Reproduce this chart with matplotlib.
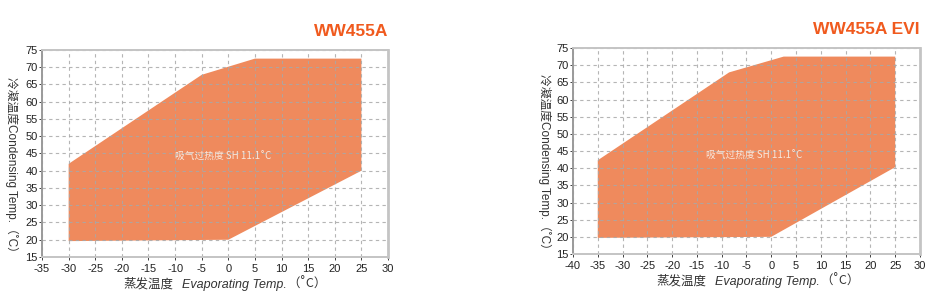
import matplotlib
matplotlib.use("Agg")
import matplotlib.pyplot as plt
from matplotlib.offsetbox import TextArea, HPacker, AnnotationBbox

plt.rcParams["axes.unicode_minus"] = False

# envelope of WW455A (evaporating temp, condensing temp)
left_evap = [-30, -30, -5, 5, 25, 25, 0]
left_cond = [19.6, 42, 67.8, 72.5, 72.5, 40, 20]
# envelope of WW455A EVI
right_evap = [-35, -35, -8.5, 2.5, 25, 25, 0]
right_cond = [19.7, 42.3, 67.9, 72.5, 72.5, 40.3, 20]

titles = ["WW455A", "WW455A EVI"]
left_xticks = list(range(-35, 31, 5))
right_xticks = list(range(-40, 31, 5))
yticks = list(range(15, 76, 5))
note = "吸气过热度 SH 11.1˚C"
note_pos = [(-1, 44), (-3.5, 43.7)]

CJK = ["Noto Sans CJK SC", "DejaVu Sans"]
LAT = ["Liberation Sans", "Noto Sans CJK SC", "DejaVu Sans"]
FILL = "#EF8A5D"
TITLE_C = "#F05A1E"

fig = plt.figure(figsize=(9.51, 3.05), dpi=100)
axes = [fig.add_axes([0.0442, 0.1574, 0.3638, 0.6787]),
        fig.add_axes([0.6025, 0.1672, 0.3649, 0.6754])]
data = [(left_evap, left_cond, left_xticks), (right_evap, right_cond, right_xticks)]

for i, ax in enumerate(axes):
    xs, ys, xt = data[i]
    ax.fill(xs, ys, color=FILL, lw=0, zorder=1)
    ax.set_xlim(xt[0], xt[-1])
    ax.set_ylim(15, 75)
    ax.set_xticks(xt)
    ax.set_yticks(yticks)
    ax.grid(True, color="#a8a8a8", ls=(0, (3, 3)), lw=0.8, alpha=0.85, zorder=2)
    ax.set_axisbelow(False)
    for s in ax.spines.values():
        s.set_color("#c4c4c4")
        s.set_linewidth(1.4)
        s.set_zorder(3)
    ax.spines["right"].set_linewidth(2.0)
    ax.spines["left"].set_color("#9a9a9a")
    ax.tick_params(labelsize=8, colors="#222222", length=2, pad=1, width=0.6)
    for t in ax.get_xticklabels() + ax.get_yticklabels():
        t.set_family("Liberation Sans")
    ax.tick_params(axis="x", pad=3)
    ax.text(note_pos[i][0], note_pos[i][1], note, color="#f7e8de", fontsize=7,
            ha="center", va="center", family=CJK, zorder=4)
    ax.text(1.0, 1.055, titles[i], transform=ax.transAxes, ha="right", va="bottom",
            fontsize=12.5, fontweight="bold", color=TITLE_C, family="Liberation Sans")

    # x label: chinese + italic english + unit
    parts = [TextArea("蒸发温度", textprops=dict(family=CJK, size=9, color="#333333")),
             TextArea("Evaporating Temp.", textprops=dict(family="Liberation Sans", style="italic",
                                                          size=9, color="#333333"))]
    unit = TextArea("（˚C）", textprops=dict(family=CJK, size=9, color="#333333"))
    box = HPacker(children=[HPacker(children=parts, align="baseline", pad=0, sep=6), unit],
                  align="baseline", pad=0, sep=0)
    xc = [225 / 951, 758 / 951][i]
    yc = [1 - 284 / 305, 1 - 281 / 305][i]
    ab = AnnotationBbox(box, (xc, yc), xycoords="figure fraction", frameon=False,
                        box_alignment=(0.5, 0.5))
    fig.add_artist(ab)

    fig.text([12 / 951, 545 / 951][i], [1 - 167 / 305, 1 - 164 / 305][i],
             "冷凝温度Condensing Temp.（˚C）", rotation=-90, ha="center", va="center",
             fontsize=8.5, color="#333333", family=LAT)

fig.savefig("out.png", dpi=100)
